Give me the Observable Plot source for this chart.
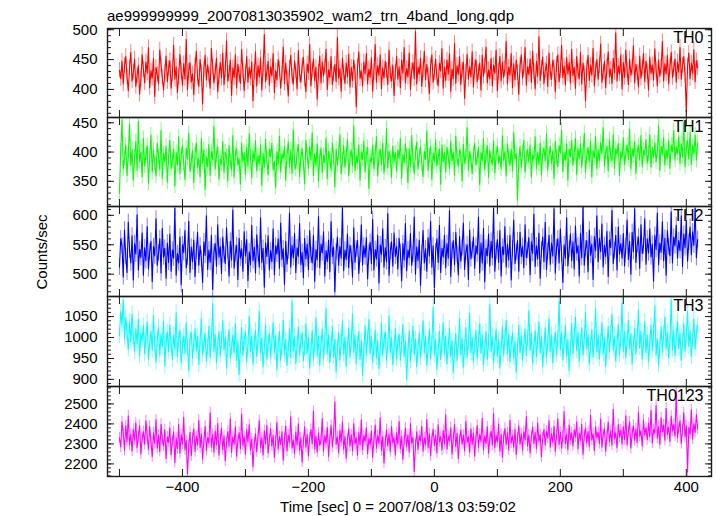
<!DOCTYPE html>
<html><head><meta charset="utf-8">
<script src="https://cdn.jsdelivr.net/npm/d3@7"></script>
<script src="https://cdn.jsdelivr.net/npm/@observablehq/plot@0.6"></script>
<style>
body{margin:0;background:#fff;font-family:"Liberation Sans",Arial,sans-serif;}
#chart{position:relative;width:717px;height:516px;overflow:hidden;background:#fff;}
.panel{position:absolute;left:0;}
#title{position:absolute;left:107px;top:15px;transform:translate(0,-50%);font-size:15px;line-height:1;color:#000;white-space:nowrap;}
#ylab{position:absolute;left:41px;top:252px;transform:translate(-50%,-50%) rotate(-90deg);font-size:15px;line-height:1;white-space:nowrap;}
#xlab{position:absolute;left:398px;top:506px;transform:translate(-50%,-50%);font-size:15px;line-height:1;white-space:nowrap;}
</style></head>
<body>
<div id="chart">
  <div id="title">ae999999999_20070813035902_wam2_trn_4band_long.qdp</div>
  <div id="ylab">Counts/sec</div>
  <div id="xlab">Time [sec] 0 = 2007/08/13 03:59:02</div>
</div>
<script>
// Time bins (seconds relative to 2007/08/13 03:59:02)
const binStart = -500;
const binWidth = 2;

// Panel names and colours
const bandNames = ["TH0", "TH1", "TH2", "TH3", "TH0123"];
const bandColors = ["#ff0000", "#00ff00", "#0000ff", "#00ffff", "#ff00ff"];

// Count rates (counts/sec)
const th0 = [
432,418,447,409,440,455,421,398,436,462,414,429,451,405,423,440,392,417,458,433,
411,446,427,470,403,431,419,452,388,437,425,409,466,441,420,399,428,456,413,435,
448,402,426,474,417,438,395,422,459,430,407,443,418,484,400,431,445,412,426,391,
439,464,420,405,450,428,376,433,457,416,441,424,402,469,437,411,430,452,396,421,
445,419,461,408,433,481,414,427,449,390,436,420,458,403,442,425,410,467,431,398,
426,455,412,437,419,446,381,429,463,406,440,421,453,399,434,492,413,428,447,407,
438,423,460,395,431,416,450,434,402,427,471,410,444,418,389,436,457,422,409,448,
430,401,465,425,412,439,454,417,396,443,428,475,406,432,451,414,437,384,429,456,
411,446,423,438,467,400,433,420,455,408,426,442,413,487,419,435,397,452,428,410,
444,421,459,404,437,415,449,429,371,438,463,418,431,406,446,426,460,409,434,420,
453,397,430,475,412,440,424,458,401,436,419,447,432,408,466,425,414,441,390,429,
456,417,438,403,449,427,470,411,435,421,461,400,431,445,418,497,409,437,426,452,
405,433,464,416,442,423,393,439,458,412,428,451,420,406,444,431,468,402,437,415,
449,426,460,397,434,418,477,410,440,425,455,408,432,446,385,429,459,417,438,421,
463,404,436,450,413,428,444,399,457,422,439,471,411,433,418,452,406,441,427,466,
398,431,455,414,446,420,435,480,409,437,424,460,403,443,416,449,428,392,440,458,
419,433,470,407,438,425,451,412,464,430,401,447,422,488,415,436,454,410,432,443,
405,461,428,417,449,436,396,442,458,413,431,474,420,439,408,453,426,445,411,467,
423,437,402,455,430,418,462,409,444,427,381,436,457,415,441,424,469,406,433,450,
417,440,476,412,429,447,403,438,463,421,434,410,452,428,495,414,439,426,458,401,
445,420,466,432,408,451,424,437,473,411,442,428,404,456,419,435,460,413,447,430,
399,454,427,441,416,468,433,406,449,422,437,480,414,443,426,457,409,438,462,420,
434,451,412,446,429,470,417,440,455,424,363,439,461,418,444,427,466,413,448,436];
const th1 = [
330,402,455,371,389,412,360,396,448,377,405,352,391,418,369,452,384,400,358,423,
376,394,411,347,388,429,366,403,381,359,415,392,370,437,355,398,383,410,349,391,
420,372,386,405,342,399,378,426,363,394,411,380,353,407,389,432,367,385,402,348,
397,416,374,390,358,423,381,404,336,392,375,413,360,401,387,444,371,395,409,354,
388,379,418,365,400,393,351,411,384,370,428,357,396,406,378,389,345,415,383,399,
362,408,376,431,390,356,402,385,419,368,394,380,412,343,398,374,422,387,361,405,
392,415,370,384,340,401,379,427,366,397,389,410,352,393,417,375,404,363,438,382,
371,399,413,358,390,406,381,346,420,395,372,409,386,433,360,397,377,414,350,391,
407,365,394,382,424,355,401,388,369,416,392,341,405,378,398,430,363,386,411,374,
396,421,360,389,404,377,445,368,393,382,412,352,400,387,419,366,395,408,338,390,
383,412,371,398,426,359,392,405,379,415,364,387,440,373,401,391,357,410,384,399,
367,404,389,423,355,396,381,414,392,348,406,375,428,386,363,398,417,371,394,409,
380,358,401,387,436,369,393,410,353,398,384,421,376,390,405,345,412,383,399,366,
408,392,372,418,385,400,361,427,389,376,404,396,351,413,381,392,442,369,401,387,
363,397,415,378,390,408,344,399,385,423,370,394,411,357,402,388,379,419,364,396,
410,382,393,371,428,386,401,359,414,392,377,405,368,433,389,397,318,384,409,374,
398,420,366,391,404,383,412,357,395,388,426,372,400,379,415,361,396,407,385,431,
369,393,410,381,402,355,418,390,375,411,398,437,367,399,386,414,352,405,392,420,
378,396,423,362,407,389,414,374,401,432,366,393,408,383,419,358,402,390,427,371,
404,385,416,397,442,376,399,410,368,421,393,385,430,372,406,396,415,360,401,389,
424,379,398,412,387,439,371,405,393,418,364,400,411,386,428,375,403,395,421,381,
397,430,374,408,391,416,383,402,445,369,410,396,425,378,404,389,419,373,412,400,
437,386,409,398,426,381,414,392,452,375,406,420,388,434,379,411,397,429,386,416];
const th2 = [
512,560,548,495,575,530,503,588,541,519,565,490,552,534,601,507,542,528,570,498,
545,523,581,509,538,556,487,547,531,594,515,536,560,502,578,529,544,493,553,520,
568,505,541,527,612,498,535,519,563,482,550,537,574,511,529,590,503,546,521,558,
496,539,571,515,548,526,486,555,532,599,508,541,520,566,474,537,552,513,584,529,
547,501,563,533,518,579,540,497,556,524,609,510,535,549,491,561,527,543,505,572,
531,559,489,538,516,583,523,546,502,567,535,512,596,520,544,478,553,530,565,507,
540,521,577,499,548,534,560,510,587,525,543,483,556,517,539,604,512,549,528,569,
503,545,530,586,516,537,494,561,526,551,508,574,532,519,566,488,542,524,598,511,
551,536,572,497,540,521,558,504,589,530,546,470,538,563,515,547,527,613,506,541,
525,568,511,549,534,495,579,520,543,557,501,533,584,516,548,529,562,492,537,554,
518,593,507,542,526,566,485,550,533,577,512,545,521,603,498,539,555,514,570,530,
547,509,561,537,489,552,524,586,506,541,528,569,515,534,597,500,546,523,558,481,
536,574,519,543,505,562,531,590,512,548,477,538,560,520,583,503,544,529,566,511,
552,527,608,496,540,557,516,571,533,499,564,522,545,587,508,537,550,491,575,526,
541,563,510,548,534,597,502,553,519,578,487,544,531,568,514,556,528,612,505,539,
559,520,574,497,546,533,581,512,551,524,566,490,543,592,518,537,557,505,571,530,
547,511,584,528,540,562,499,555,535,602,513,548,526,570,493,541,563,521,588,508,
539,566,517,553,531,611,502,545,560,519,577,534,486,550,527,596,514,542,568,523,
555,509,582,536,548,497,569,528,615,515,543,557,504,575,532,551,491,564,540,599,
521,561,538,585,512,549,530,573,496,558,545,608,518,540,566,507,580,534,552,527,
569,514,547,592,525,556,500,571,538,611,520,550,563,510,584,535,548,594,517,560,
536,577,529,551,488,566,542,604,516,553,537,589,523,561,498,574,546,531,606,519,
563,548,583,527,557,540,599,513,568,545,591,522,554,580,533,572,549,612,528,559];
const th3 = [
1005,1062,1031,1090,998,1047,1012,972,1038,990,1056,1003,967,1021,985,1044,956,1009,993,1028,
961,1002,1037,949,988,1015,970,1052,983,941,996,1024,958,1007,979,1040,932,990,1013,966,
1030,984,947,1006,973,1059,955,994,1018,939,981,1004,962,1035,976,921,998,1012,950,987,
1021,968,1003,935,992,1046,960,984,1010,944,977,1027,953,999,1081,966,1008,940,982,1015,
957,993,1041,971,1001,928,986,1019,951,975,1006,963,1033,945,990,912,979,1024,958,997,
1012,942,981,1050,967,1004,936,988,1017,955,994,1064,961,1000,930,976,1029,948,985,1009,
953,991,1036,964,1005,923,982,1014,946,978,1042,959,996,933,971,1021,952,1088,968,1002,
938,980,1025,957,992,1011,944,975,1033,962,999,927,970,1016,949,987,1047,956,1003,934,
985,1020,950,993,1069,961,1007,940,978,1026,955,996,918,974,1012,946,988,1038,960,1001,
931,979,1023,953,990,1057,965,1006,937,983,1015,948,992,910,969,1028,957,999,1043,962,
1004,941,977,1018,951,993,926,972,1035,958,996,1013,944,982,1052,963,1000,935,975,1021,
949,990,1008,946,984,1031,955,991,899,968,1016,943,981,1027,960,997,930,974,1011,952,
989,1040,963,1002,934,977,1019,950,986,1072,958,995,924,971,1014,947,983,1036,961,1004,
937,979,1022,954,992,916,968,1009,945,985,1046,959,998,929,976,1024,953,989,1058,964,
1001,942,981,1017,950,994,1033,962,1006,935,974,1015,948,987,1079,966,1003,939,980,1020,
955,996,927,972,1026,958,999,1041,961,1008,943,983,1012,952,991,917,975,1030,964,1005,
946,986,1021,957,997,1064,969,1010,938,979,1016,954,993,1037,963,1002,931,977,1023,951,
988,1045,966,1006,940,982,1013,959,998,1086,971,1011,947,985,1028,956,995,922,974,1034,
962,1003,1049,968,1012,943,987,1024,958,999,1060,972,1008,936,981,1019,953,996,1070,965,
1007,949,989,1035,961,1001,931,978,1027,966,1010,1055,970,1004,944,988,1031,959,998,1082,
967,1013,952,991,1042,973,1009,937,984,1022,961,1000,1066,975,1015,948,990,1038,964,1006,
942,987,1029,969,1011,1076,958,997,934,981,1025,965,1008,1049,972,1012,951,993,1090,970,
1016,957,1001,1039,974,1010,945,989,1033,968,1005,1062,979,1017,955,996,1044,973,1011,1028];
const th0123 = [
2330,2285,2410,2352,2268,2390,2312,2440,2295,2348,2265,2372,2318,2405,2280,2335,2392,2250,2326,2361,
2298,2415,2340,2272,2387,2310,2236,2355,2302,2420,2279,2343,2262,2398,2321,2289,2370,2227,2334,2308,
2381,2246,2315,2360,2207,2329,2276,2397,2253,2345,2300,2433,2270,2318,2150,2290,2358,2241,2327,2374,
2262,2339,2295,2418,2281,2350,2224,2312,2388,2267,2331,2304,2456,2283,2347,2259,2364,2296,2402,2244,
2323,2378,2271,2341,2215,2306,2362,2288,2425,2257,2335,2299,2384,2238,2316,2357,2276,2449,2292,2336,
2248,2370,2311,2396,2269,2324,2186,2303,2351,2261,2338,2415,2280,2329,2245,2366,2301,2393,2254,2318,
2377,2290,2343,2232,2314,2408,2273,2337,2297,2361,2219,2325,2389,2265,2344,2307,2436,2278,2320,2252,
2359,2296,2401,2268,2331,2210,2312,2385,2284,2347,2240,2328,2372,2300,2463,2275,2339,2258,2354,2293,
2319,2427,2263,2341,2304,2382,2237,2326,2392,2285,2350,2510,2297,2334,2256,2368,2309,2411,2274,2337,
2228,2322,2376,2288,2345,2264,2400,2301,2331,2243,2357,2295,2420,2270,2340,2313,2380,2251,2327,2296,
2364,2233,2318,2394,2279,2342,2302,2431,2267,2335,2205,2310,2371,2290,2349,2261,2387,2306,2329,2245,
2355,2298,2412,2276,2338,2224,2317,2379,2287,2346,2259,2402,2305,2332,2162,2294,2361,2272,2340,2313,
2388,2263,2330,2296,2422,2280,2351,2241,2325,2374,2291,2343,2255,2396,2310,2336,2270,2367,2301,2446,
2274,2338,2315,2381,2249,2327,2398,2286,2353,2227,2320,2369,2298,2344,2266,2413,2307,2335,2258,2376,
2297,2354,2239,2331,2392,2282,2347,2312,2428,2271,2339,2302,2385,2254,2326,2363,2293,2452,2281,2342,
2311,2399,2263,2348,2232,2334,2377,2296,2356,2270,2418,2305,2340,2284,2373,2247,2328,2390,2299,2350,
2268,2361,2320,2437,2289,2344,2255,2336,2383,2302,2357,2276,2405,2314,2346,2236,2329,2372,2295,2364,
2329,2415,2283,2352,2308,2388,2262,2343,2425,2297,2359,2278,2337,2460,2301,2348,2271,2394,2318,2356,
2290,2370,2335,2411,2276,2354,2317,2398,2248,2341,2379,2305,2362,2288,2444,2320,2351,2267,2386,2330,
2358,2302,2424,2284,2347,2376,2263,2339,2408,2311,2366,2294,2473,2326,2355,2281,2397,2334,2369,2300,
2385,2322,2440,2296,2361,2410,2278,2350,2392,2317,2374,2307,2459,2338,2366,2290,2419,2345,2381,2321,
2403,2336,2467,2305,2372,2354,2492,2328,2387,2299,2430,2360,2394,2318,2478,2347,2383,2312,2438,2365,
2397,2340,2561,2331,2378,2415,2302,2368,2455,2335,2391,2160,2382,2349,2470,2325,2401,2357,2446,2376];

// 1-sigma error bar half-lengths (counts/sec), one per panel
const errors = [13, 13, 14, 19, 28];

// Axis ranges and tick labels
const xDomain = [-519, 440];
const xTicks = [-500, -400, -300, -200, -100, 0, 100, 200, 300, 400];
const xTickLabels = [-400, -200, 0, 200, 400];
const yDomains = [[353, 502], [307, 459], [462, 615], [883, 1098], [2137, 2587]];
const yMajorTicks = [[400, 450, 500], [350, 400, 450], [500, 550, 600], [900, 950, 1000, 1050], [2200, 2300, 2400, 2500]];
const yMinorSteps = [10, 10, 10, 10, 20];

const series = [th0, th1, th2, th3, th0123];
const panelTops = [28, 117, 206, 296, 386];
const panelHeights = [89, 89, 90, 90, 90];

const fmt = d => (d < 0 ? "\u2212" + Math.abs(d) : String(d));
const chart = document.getElementById("chart");
const ink = "#1a1a1a";

series.forEach((vals, i) => {
  const err = errors[i];
  const data = vals.map((v, j) => ({t: binStart + j * binWidth, v, lo: v - err, hi: v + err}));
  const last = i === series.length - 1;
  const [y0, y1] = yDomains[i];
  const step = yMinorSteps[i];
  const minor = d3.range(Math.ceil(y0 / step) * step, y1 + 0.001, step);
  const svg = Plot.plot({
    width: 717,
    height: panelHeights[i] + (last ? 40 : 0),
    marginLeft: 107, marginRight: 6, marginTop: 0, marginBottom: last ? 40 : 0,
    style: {overflow: "visible", fontFamily: "'Liberation Sans', Arial, sans-serif", fontSize: "15px", background: "transparent", color: "#000"},
    x: {domain: xDomain, axis: null},
    y: {domain: yDomains[i], axis: null},
    marks: [
      Plot.ruleX(data, {x: "t", y1: "lo", y2: "hi", stroke: bandColors[i], strokeWidth: 1, strokeOpacity: 0.5, clip: true}),
      Plot.line(data, {x: "t", y: "v", stroke: bandColors[i], strokeWidth: 1.1, clip: true}),
      Plot.axisY({anchor: "left", ticks: yMajorTicks[i], tickSize: -7, tickPadding: 17, tickFormat: fmt, stroke: ink, fill: "#000", fontSize: 15, label: null}),
      Plot.axisY({anchor: "left", ticks: minor, tickSize: -4, stroke: ink, fill: "none", label: null}),
      Plot.axisY({anchor: "right", ticks: yMajorTicks[i], tickSize: -7, stroke: ink, fill: "none", label: null}),
      Plot.axisY({anchor: "right", ticks: minor, tickSize: -4, stroke: ink, fill: "none", label: null}),
      Plot.axisX({anchor: "top", ticks: xTicks, tickSize: -7, stroke: ink, fill: "none", label: null}),
      last
        ? Plot.axisX({anchor: "bottom", ticks: xTicks, tickSize: -7, tickPadding: 12, stroke: ink, fill: "#000", fontSize: 15,
            tickFormat: d => (xTickLabels.includes(d) ? fmt(d) : ""), label: null})
        : Plot.axisX({anchor: "bottom", ticks: xTicks, tickSize: -7, stroke: ink, fill: "none", label: null}),
      Plot.frame({stroke: ink, strokeWidth: 1.4}),
      Plot.text([bandNames[i]], {frameAnchor: "top-right", textAnchor: "end", lineAnchor: "top", dx: -8, dy: 3, fontSize: 16, fill: "#000"})
    ]
  });
  svg.classList.add("panel");
  svg.style.top = panelTops[i] + "px";
  chart.appendChild(svg);
});
</script>
</body></html>
